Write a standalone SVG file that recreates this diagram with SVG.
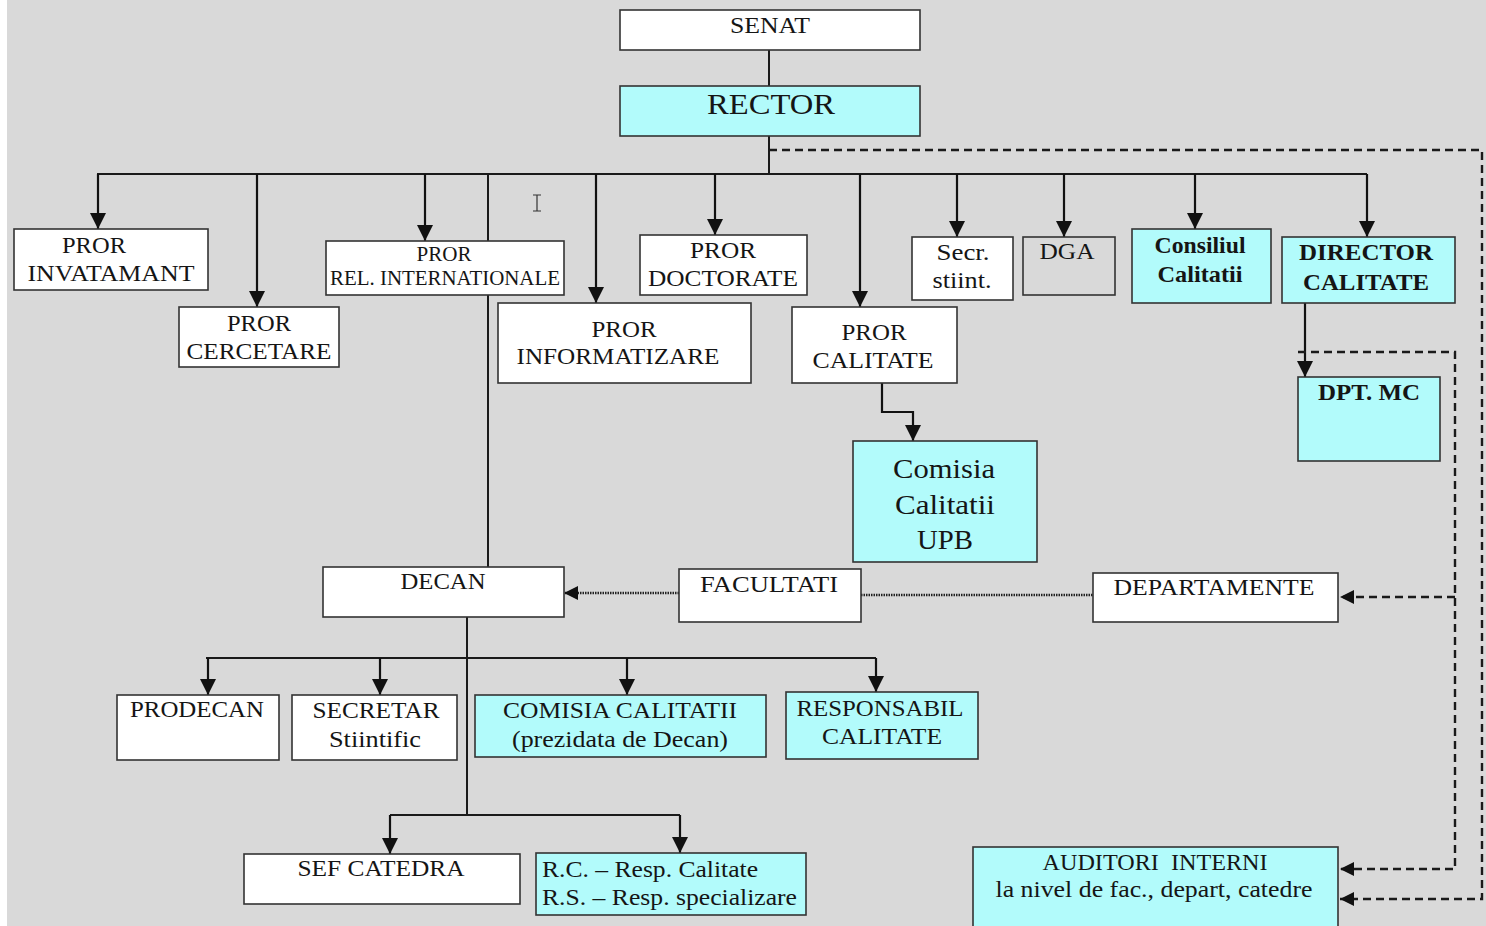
<svg xmlns="http://www.w3.org/2000/svg" width="1486" height="926" viewBox="0 0 1486 926" font-family="Liberation Serif, DejaVu Serif, Times New Roman, serif">
<defs>
<style>
.bx{fill:#ffffff;stroke:#333333;stroke-width:1.6}
.cy{fill:#b2fbfb;stroke:#333333;stroke-width:1.6}
.gy{fill:#d9d9d9;stroke:#333333;stroke-width:1.6}
.t{font-size:24px;fill:#151515;text-anchor:middle}
.tb{font-size:23px;font-weight:bold;fill:#151515;text-anchor:middle}
.ln{fill:none;stroke:#1a1a1a;stroke-width:2}
.ar{fill:none;stroke:#111111;stroke-width:2.2;marker-end:url(#ah)}
.dsh{fill:none;stroke:#1a1a1a;stroke-width:2.4;stroke-dasharray:8 5}
.dot{fill:none;stroke:#222222;stroke-width:2.6;stroke-dasharray:1.5 1}
</style>
<marker id="ah" markerUnits="userSpaceOnUse" markerWidth="16" markerHeight="16" refX="16" refY="8" orient="auto"><path d="M0,0 L16,8 L0,16 z" fill="#111111"/></marker>
<marker id="ahs" markerUnits="userSpaceOnUse" markerWidth="14" markerHeight="14" refX="14" refY="7" orient="auto"><path d="M0,0 L14,7 L0,14 z" fill="#111111"/></marker>
</defs>
<rect x="0" y="0" width="1486" height="926" fill="#d9d9d9"/>
<rect x="0" y="0" width="7" height="926" fill="#ffffff"/>

<g id="connectors">
<line class="ln" x1="769" y1="50" x2="769" y2="86"/>
<line class="ln" x1="769" y1="136" x2="769" y2="175"/>
<line class="ln" x1="97" y1="174" x2="1367" y2="174"/>
<line class="ar" x1="98" y1="174" x2="98" y2="229"/>
<line class="ar" x1="257" y1="174" x2="257" y2="307"/>
<line class="ar" x1="425" y1="174" x2="425" y2="241"/>
<line class="ln" x1="488" y1="174" x2="488" y2="567"/>
<line class="ar" x1="596" y1="174" x2="596" y2="303"/>
<line class="ar" x1="715" y1="174" x2="715" y2="235"/>
<line class="ar" x1="860" y1="174" x2="860" y2="307"/>
<line class="ar" x1="957" y1="174" x2="957" y2="237"/>
<line class="ar" x1="1064" y1="174" x2="1064" y2="237"/>
<line class="ar" x1="1195" y1="174" x2="1195" y2="229"/>
<line class="ar" x1="1367" y1="174" x2="1367" y2="237"/>
<line class="ar" x1="1305" y1="303" x2="1305" y2="377"/>
<path class="ar" d="M882,383 L882,412 L913,412 L913,441"/>
<path class="dot" d="M679,593 L564,593" marker-end="url(#ahs)"/>
<line class="dot" x1="861" y1="595" x2="1093" y2="595"/>
<line class="ln" x1="467" y1="617" x2="467" y2="815"/>
<line class="ln" x1="206" y1="658" x2="876" y2="658"/>
<line class="ar" x1="208" y1="658" x2="208" y2="695"/>
<line class="ar" x1="380" y1="658" x2="380" y2="695"/>
<line class="ar" x1="627" y1="658" x2="627" y2="695"/>
<line class="ar" x1="876" y1="658" x2="876" y2="692"/>
<line class="ln" x1="390" y1="815" x2="680" y2="815"/>
<line class="ar" x1="390" y1="815" x2="390" y2="854"/>
<line class="ar" x1="680" y1="815" x2="680" y2="853"/>
<path class="dsh" d="M769,150 L1482,150 L1482,899 L1340,899" marker-end="url(#ahs)"/>
<path class="dsh" d="M1298,352 L1455,352 L1455,869 L1340,869" marker-end="url(#ahs)"/>
<path class="dsh" d="M1455,597 L1340,597" marker-end="url(#ahs)"/>
</g>

<g id="cursor"><path d="M537,195 L537,211 M533,195 L541,195 M533,211 L541,211" stroke="#333333" stroke-width="1.2" fill="none"/></g>

<g id="senat"><rect class="bx" x="620" y="10" width="300" height="40"/><text class="t" x="770" y="33" textLength="80" lengthAdjust="spacingAndGlyphs">SENAT</text></g>
<g id="rector"><rect class="cy" x="620" y="86" width="300" height="50"/><text class="t" x="771" y="114" style="font-size:30px" textLength="128" lengthAdjust="spacingAndGlyphs">RECTOR</text></g>

<g id="pror-invatamant"><rect class="bx" x="14" y="229" width="194" height="61"/><text class="t" x="94" y="253" textLength="64" lengthAdjust="spacingAndGlyphs">PROR</text><text class="t" x="111" y="281" textLength="167" lengthAdjust="spacingAndGlyphs">INVATAMANT</text></g>
<g id="pror-cercetare"><rect class="bx" x="179" y="307" width="160" height="60"/><text class="t" x="259" y="331" textLength="64" lengthAdjust="spacingAndGlyphs">PROR</text><text class="t" x="259" y="359" textLength="145" lengthAdjust="spacingAndGlyphs">CERCETARE</text></g>
<g id="pror-rel"><rect class="bx" x="326" y="241" width="238" height="54"/><text class="t" x="444" y="261" style="font-size:20px" textLength="55" lengthAdjust="spacingAndGlyphs">PROR</text><text class="t" x="445" y="285" style="font-size:20px" textLength="230" lengthAdjust="spacingAndGlyphs">REL. INTERNATIONALE</text></g>
<g id="pror-informatizare"><rect class="bx" x="498" y="303" width="253" height="80"/><text class="t" x="624" y="337" textLength="65" lengthAdjust="spacingAndGlyphs">PROR</text><text class="t" x="618" y="364" textLength="203" lengthAdjust="spacingAndGlyphs">INFORMATIZARE</text></g>
<g id="pror-doctorate"><rect class="bx" x="640" y="235" width="167" height="60"/><text class="t" x="723" y="258" textLength="66" lengthAdjust="spacingAndGlyphs">PROR</text><text class="t" x="723" y="286" textLength="150" lengthAdjust="spacingAndGlyphs">DOCTORATE</text></g>
<g id="pror-calitate"><rect class="bx" x="792" y="307" width="165" height="76"/><text class="t" x="874" y="340" textLength="65" lengthAdjust="spacingAndGlyphs">PROR</text><text class="t" x="873" y="368" textLength="121" lengthAdjust="spacingAndGlyphs">CALITATE</text></g>
<g id="secr-stiint"><rect class="bx" x="912" y="237" width="101" height="63"/><text class="t" x="963" y="260" textLength="53" lengthAdjust="spacingAndGlyphs">Secr.</text><text class="t" x="962" y="288" textLength="59" lengthAdjust="spacingAndGlyphs">stiint.</text></g>
<g id="dga"><rect class="gy" x="1023" y="237" width="92" height="58"/><text class="t" x="1067" y="259" textLength="55" lengthAdjust="spacingAndGlyphs">DGA</text></g>
<g id="consiliul-calitatii"><rect class="cy" x="1132" y="229" width="139" height="74"/><text class="tb" x="1200" y="253" textLength="91" lengthAdjust="spacingAndGlyphs">Consiliul</text><text class="tb" x="1200" y="282" textLength="85" lengthAdjust="spacingAndGlyphs">Calitatii</text></g>
<g id="director-calitate"><rect class="cy" x="1282" y="237" width="173" height="66"/><text class="tb" x="1366" y="260" textLength="134" lengthAdjust="spacingAndGlyphs">DIRECTOR</text><text class="tb" x="1366" y="290" textLength="126" lengthAdjust="spacingAndGlyphs">CALITATE</text></g>
<g id="dpt-mc"><rect class="cy" x="1298" y="377" width="142" height="84"/><text class="tb" x="1369" y="400" textLength="102" lengthAdjust="spacingAndGlyphs">DPT. MC</text></g>
<g id="comisia-upb"><rect class="cy" x="853" y="441" width="184" height="121"/><text class="t" x="944" y="478" style="font-size:28px" textLength="102" lengthAdjust="spacingAndGlyphs">Comisia</text><text class="t" x="945" y="514" style="font-size:28px" textLength="100" lengthAdjust="spacingAndGlyphs">Calitatii</text><text class="t" x="945" y="549" style="font-size:28px" textLength="56" lengthAdjust="spacingAndGlyphs">UPB</text></g>

<g id="decan"><rect class="bx" x="323" y="567" width="241" height="50"/><text class="t" x="443" y="589" textLength="85" lengthAdjust="spacingAndGlyphs">DECAN</text></g>
<g id="facultati"><rect class="bx" x="679" y="569" width="182" height="53"/><text class="t" x="769" y="592" textLength="138" lengthAdjust="spacingAndGlyphs">FACULTATI</text></g>
<g id="departamente"><rect class="bx" x="1093" y="573" width="245" height="49"/><text class="t" x="1214" y="595" textLength="201" lengthAdjust="spacingAndGlyphs">DEPARTAMENTE</text></g>

<g id="prodecan"><rect class="bx" x="117" y="695" width="162" height="65"/><text class="t" x="197" y="717" textLength="134" lengthAdjust="spacingAndGlyphs">PRODECAN</text></g>
<g id="secretar"><rect class="bx" x="292" y="695" width="165" height="65"/><text class="t" x="376" y="718" textLength="127" lengthAdjust="spacingAndGlyphs">SECRETAR</text><text class="t" x="375" y="747" textLength="92" lengthAdjust="spacingAndGlyphs">Stiintific</text></g>
<g id="comisia-fac"><rect class="cy" x="475" y="695" width="291" height="62"/><text class="t" x="620" y="718" textLength="234" lengthAdjust="spacingAndGlyphs">COMISIA CALITATII</text><text class="t" x="620" y="747" textLength="216" lengthAdjust="spacingAndGlyphs">(prezidata de Decan)</text></g>
<g id="responsabil"><rect class="cy" x="786" y="692" width="192" height="67"/><text class="t" x="880" y="716" textLength="167" lengthAdjust="spacingAndGlyphs">RESPONSABIL</text><text class="t" x="882" y="744" textLength="120" lengthAdjust="spacingAndGlyphs">CALITATE</text></g>

<g id="sef-catedra"><rect class="bx" x="244" y="854" width="276" height="50"/><text class="t" x="381" y="876" textLength="167" lengthAdjust="spacingAndGlyphs">SEF CATEDRA</text></g>
<g id="rc-rs"><rect class="cy" x="536" y="853" width="270" height="62"/><text class="t" x="542" y="877" style="text-anchor:start" textLength="216" lengthAdjust="spacingAndGlyphs">R.C. – Resp. Calitate</text><text class="t" x="542" y="905" style="text-anchor:start" textLength="255" lengthAdjust="spacingAndGlyphs">R.S. – Resp. specializare</text></g>
<g id="auditori"><rect class="cy" x="973" y="847" width="365" height="85"/><text class="t" x="1155" y="870" xml:space="preserve" textLength="225" lengthAdjust="spacingAndGlyphs">AUDITORI  INTERNI</text><text class="t" x="1154" y="897" textLength="317" lengthAdjust="spacingAndGlyphs">la nivel de fac., depart, catedre</text></g>
</svg>
